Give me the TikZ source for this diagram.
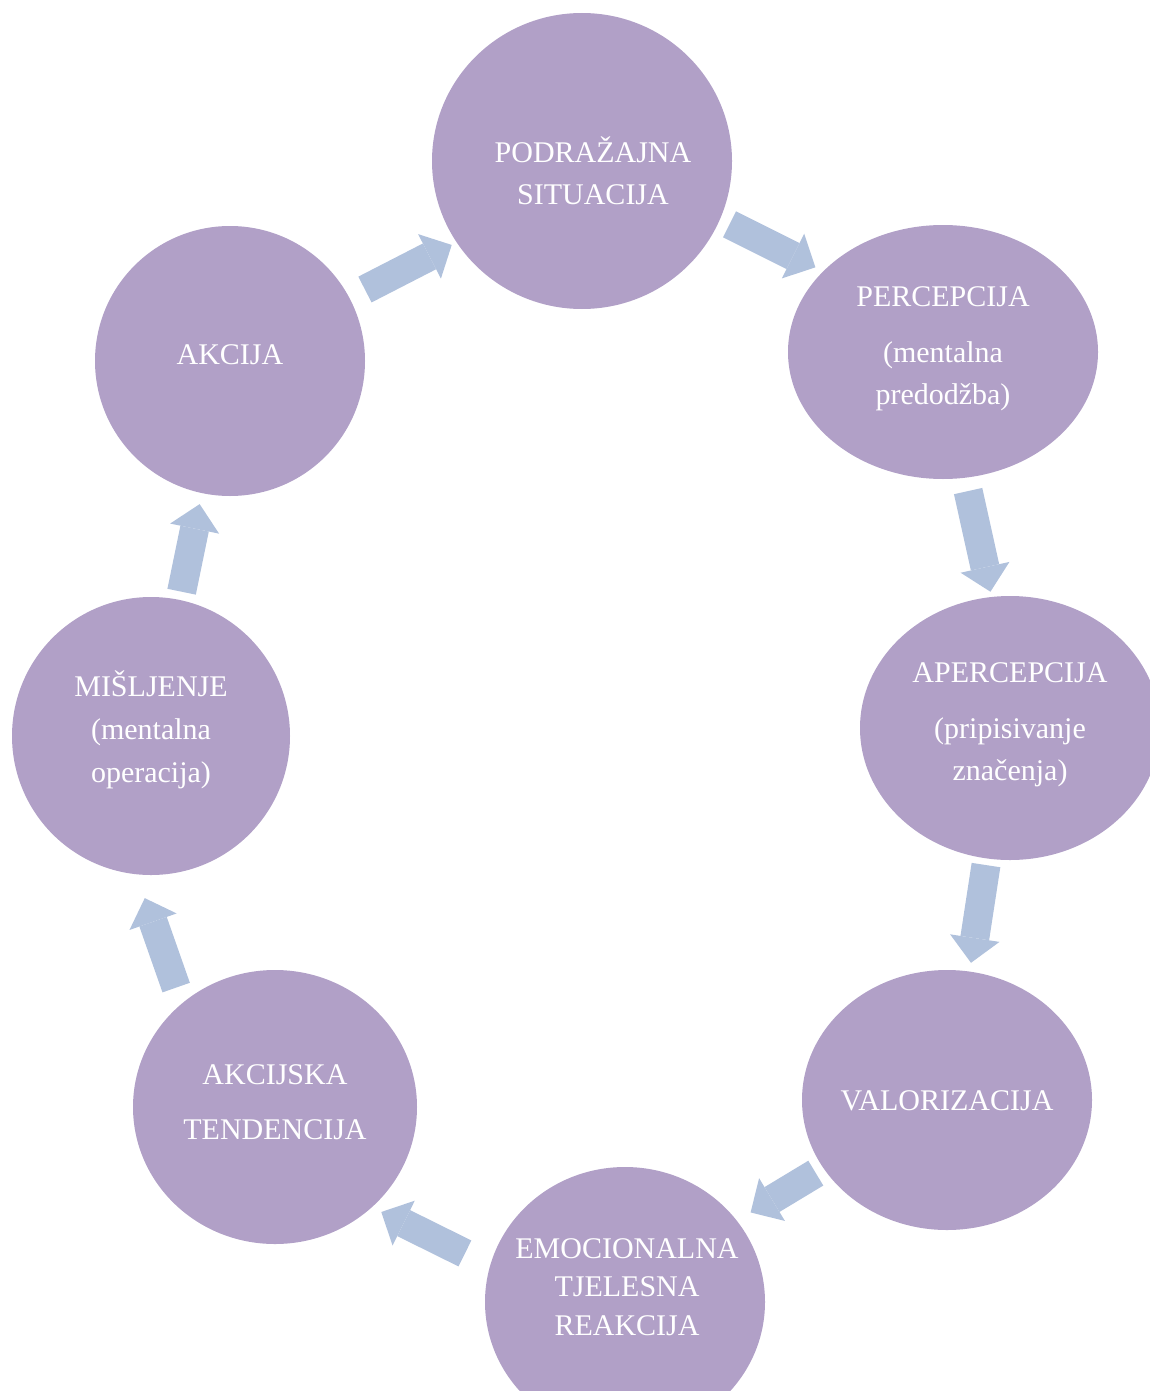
\documentclass[tikz,border=0pt]{standalone}
\usepackage{fontspec}
\setmainfont{Liberation Serif}
\usetikzlibrary{shapes.geometric, arrows.meta}

\definecolor{circlefill}{RGB}{177,160,199}
\definecolor{arrowfill}{RGB}{176,193,220}

\begin{document}
\begin{tikzpicture}[x=1pt, y=-1pt]
		\tikzset{nd/.style={ellipse, fill=circlefill, inner sep=0pt}};
		\tikzset{txt/.style={text=white, align=center, inner sep=0pt, font=\fontsize{30}{42}\selectfont}};
		\tikzset{flow/.style={draw=arrowfill, line width=29pt, -{Triangle[length=25pt, width=50pt, line width=0pt]}}};

		\clip (0, 0) rectangle (1150, 1391);

		\node[nd, minimum width=300pt, minimum height=296pt] (podr) at (582, 161) {};
		\node[nd, minimum width=310pt, minimum height=254pt] (perc) at (943, 352) {};
		\node[nd, minimum width=300pt, minimum height=264pt] (aperc) at (1010, 728) {};
		\node[nd, minimum width=290pt, minimum height=260pt] (valor) at (947, 1100) {};
		\node[nd, minimum width=280pt, minimum height=270pt] (emoc) at (625, 1302) {};
		\node[nd, minimum width=284pt, minimum height=274pt] (tend) at (275, 1107) {};
		\node[nd, minimum width=278pt, minimum height=278pt] (mis) at (151, 736) {};
		\node[nd, minimum width=270pt, minimum height=270pt] (akc) at (230, 361) {};

		% labels
		\node[txt] (podr-t) at (593, 171) {PODRAŽAJNA\\SITUACIJA};
		\node[txt] (perc-t) at (943, 349) {PERCEPCIJA\\[14pt](mentalna\\predodžba)};
		\node[txt] (aperc-t) at (1010, 725) {APERCEPCIJA\\[14pt](pripisivanje\\značenja)};
		\node[txt] (valor-t) at (947, 1101) {VALORIZACIJA};
		\node[txt, font=\fontsize{30}{38.5}\selectfont] (emoc-t) at (627, 1287) {EMOCIONALNA\\TJELESNA\\REAKCIJA};
		\node[txt] (tend-t) at (275, 1102) {AKCIJSKA\\[13pt]TENDENCIJA};
		\node[txt, font=\fontsize{30}{43}\selectfont] (mis-t) at (151, 730) {MIŠLJENJE\\(mentalna\\operacija)};
		\node[txt] (akc-t) at (230, 355) {AKCIJA};

		\draw[flow, shorten <=17.5pt, shorten >=5.4pt] (akc.28) to (podr.213);
		\draw[flow, shorten <=10.7pt, shorten >=8.7pt] (podr.337) to (perc.146);
		\draw[flow, shorten <=13.5pt, shorten >=5.2pt] (perc.280) to (aperc.98);
		\draw[flow, shorten <=6.5pt, shorten >=8.7pt] (aperc.260) to (valor.80);
		\draw[flow, shorten <=9pt, shorten >=15.9pt] (valor.209) to (emoc.36);
		\draw[flow, shorten <=27.9pt, shorten >=10.4pt] (emoc.165) to (tend.314);
		\draw[flow, shorten <=16.8pt, shorten >=25.1pt] (tend.132) to (mis.264);
		\draw[flow, shorten <=8.3pt, shorten >=11.1pt] (mis.78) to (akc.258);
	\end{tikzpicture}
\end{document}
